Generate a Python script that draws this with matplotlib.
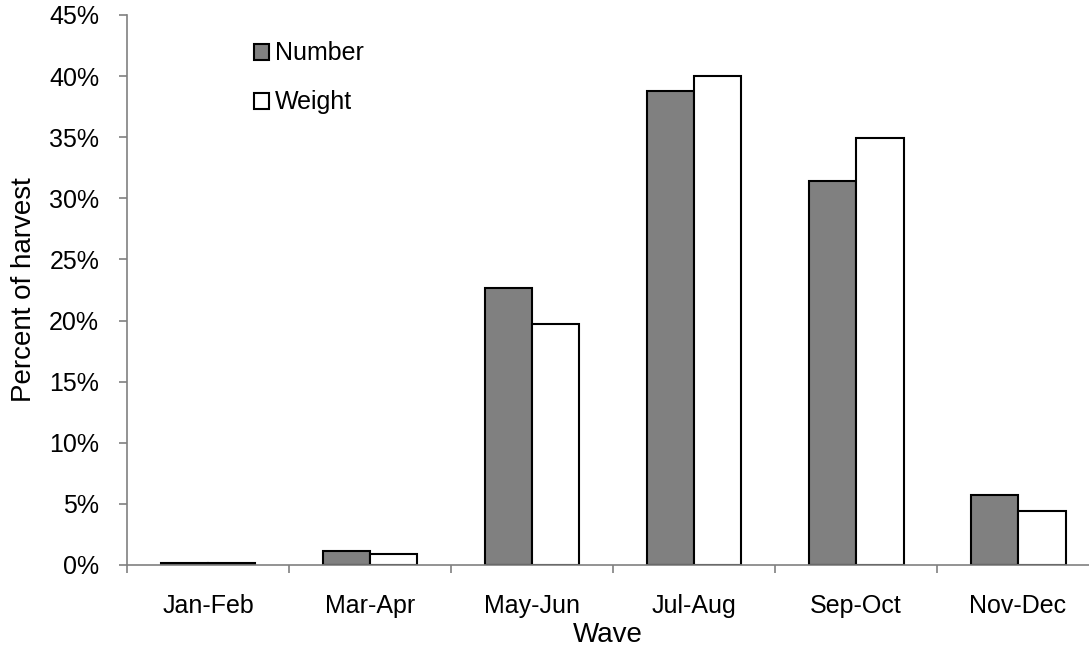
import matplotlib.pyplot as plt
import numpy as np

plt.rcParams['font.family'] = ['Liberation Sans', 'DejaVu Sans']

waves = ['Jan-Feb', 'Mar-Apr', 'May-Jun', 'Jul-Aug', 'Sep-Oct', 'Nov-Dec']
number_pct = [0.2, 1.15, 22.7, 38.8, 31.4, 5.7]
weight_pct = [0.2, 0.88, 19.7, 40.0, 34.9, 4.4]

x = np.arange(len(waves))
w = 0.293

fig = plt.figure(figsize=(10.89, 6.55), dpi=100)
ax = fig.add_axes([127 / 1089, 1 - 565 / 655, 1 - 127 / 1089, 550 / 655])

ax.bar(x - w / 2, number_pct, w, color='#808080', edgecolor='black', linewidth=1.5, label='Number')
ax.bar(x + w / 2, weight_pct, w, color='white', edgecolor='black', linewidth=1.5, label='Weight')

ax.set_xlim(-0.5, 5.438)
ax.set_ylim(0, 45)
ax.set_yticks(range(0, 46, 5))
ax.set_yticklabels([f'{v}%' for v in range(0, 46, 5)], fontsize=18)
ax.set_xticks(x)
ax.set_xticklabels(waves, fontsize=18)
ax.set_xticks(np.arange(-0.5, 5.5, 1), minor=True)
ax.tick_params(axis='x', which='major', length=0, pad=21)
ax.tick_params(axis='x', which='minor', length=6, color='#808080', width=1.2, direction='out')
ax.tick_params(axis='y', length=6, color='#808080', width=1.2, direction='out', pad=14)

for s in ['top', 'right']:
    ax.spines[s].set_visible(False)
for s in ['left', 'bottom']:
    ax.spines[s].set_color('#808080')
    ax.spines[s].set_linewidth(1.2)

ax.set_xlabel('Wave', fontsize=20, labelpad=3)
ax.set_ylabel('Percent of harvest', fontsize=20, labelpad=9)

ax.legend(loc='upper left', bbox_to_anchor=(0.132, 0.952), frameon=False, fontsize=18,
          borderpad=0, borderaxespad=0,
          handlelength=0.6, handleheight=0.6, handletextpad=0.25, labelspacing=1.0)

plt.savefig('out.png', dpi=100)
